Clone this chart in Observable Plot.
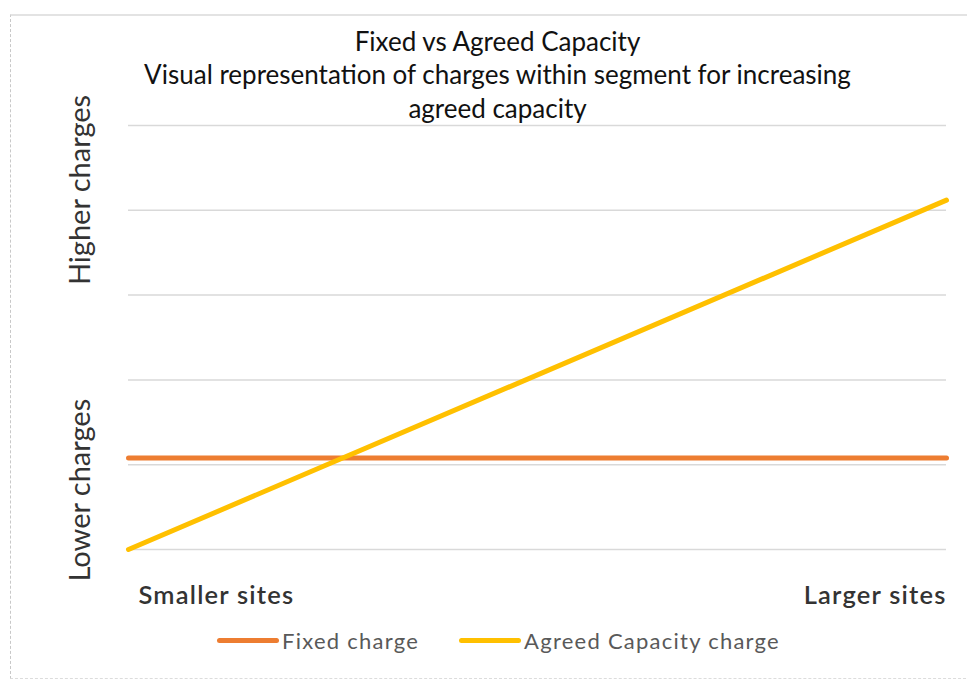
<!DOCTYPE html>
<html>
<head>
<meta charset="utf-8">
<script src="https://cdn.jsdelivr.net/npm/d3@7"></script>
<script src="https://cdn.jsdelivr.net/npm/@observablehq/plot@0.6"></script>
<style>
  html, body { margin: 0; padding: 0; background: #fff; }
  #wrap { position: relative; width: 967px; height: 681px; overflow: hidden; font-family: Lato, "Open Sans", sans-serif; }
  #border { position: absolute; left: 10px; top: 14px; width: 970px; height: 662px;
            border-top: 2px solid #e3e3e3; border-left: 1px dashed #c8c8c8; border-bottom: 1px dashed #dcdcdc; }
  #legend { position: absolute; top: 627px; left: 217px; display: flex; align-items: center;
            font-size: 22px; color: #595959; letter-spacing: 1.25px; }
  .item { display: flex; align-items: center; }
  .sw { width: 62px; height: 5px; border-radius: 3px; margin-right: 3px; }
</style>
</head>
<body>
<div id="wrap"><div id="border"></div><div id="chart"></div><div id="legend"></div></div>
<script>
// ---- data ----
const titleLines = ["Fixed vs Agreed Capacity", "Visual representation of charges within segment for increasing", "agreed capacity"];
const seriesNames = ["Fixed charge", "Agreed Capacity charge"];
const seriesColors = ["#ED7D31", "#FFC000"];
const xPositions = [0, 1];
const fixedValues = [1.08, 1.08];
const agreedValues = [0.0, 4.12];
const xLabels = ["Smaller sites", "Larger sites"];
const yLabels = ["Lower charges", "Higher charges"];
const yLabelPositions = [0.70, 4.24];
const gridTicks = [0, 1, 2, 3, 4, 5];

const rows = [];
seriesNames.forEach((s, i) => {
  const vals = i === 0 ? fixedValues : agreedValues;
  xPositions.forEach((x, j) => rows.push({series: s, x, y: vals[j]}));
});
const yLab = yLabels.map((label, i) => ({label, y: yLabelPositions[i]}));
const xLab = xLabels.map((label, i) => ({label, x: xPositions[i]}));

const plot = Plot.plot({
  width: 967,
  height: 681,
  marginLeft: 128,
  marginRight: 21,
  marginTop: 125,
  marginBottom: 132,
  style: {fontFamily: "Lato, 'Open Sans', sans-serif", background: "transparent", overflow: "visible"},
  x: {domain: [0, 1], axis: null},
  y: {domain: [0, 5], axis: null},
  color: {domain: seriesNames, range: seriesColors},
  marks: [
    Plot.gridY(gridTicks, {stroke: "#d9d9d9", strokeOpacity: 1, strokeWidth: 1.5}),
    Plot.line(rows, {x: "x", y: "y", z: "series", stroke: "series", strokeWidth: 5, strokeLinecap: "round"}),
    Plot.text([titleLines.join("\n")], {text: d => d, frameAnchor: "top", lineAnchor: "top", dx: -40, dy: -98,
      fontSize: 26, lineHeight: 1.28, fill: "#111"}),
    Plot.text(yLab, {y: "y", text: "label", frameAnchor: "left", dx: -48, rotate: -90, textAnchor: "middle",
      fontSize: 29, fill: "#333"}),
    Plot.text(xLab.slice(0, 1), {x: "x", text: "label", frameAnchor: "bottom", dy: 54, dx: 10, textAnchor: "start",
      fontSize: 25.5, fill: "#333", fontWeight: 600}),
    Plot.text(xLab.slice(1), {x: "x", text: "label", frameAnchor: "bottom", dy: 54, dx: 0, textAnchor: "end",
      fontSize: 25.5, fill: "#333", fontWeight: 600})
  ]
});
d3.select(plot).selectAll('g[aria-label="text"]').filter((d, i) => i >= 2).attr("letter-spacing", "1.2px");
document.getElementById("chart").appendChild(plot);

const legend = document.getElementById("legend");
seriesNames.forEach((s, i) => {
  const it = document.createElement("div");
  it.className = "item";
  if (i > 0) it.style.marginLeft = "40px";
  const sw = document.createElement("div");
  sw.className = "sw";
  sw.style.background = seriesColors[i];
  const t = document.createElement("span");
  t.textContent = s;
  it.appendChild(sw); it.appendChild(t);
  legend.appendChild(it);
});
</script>
</body>
</html>
